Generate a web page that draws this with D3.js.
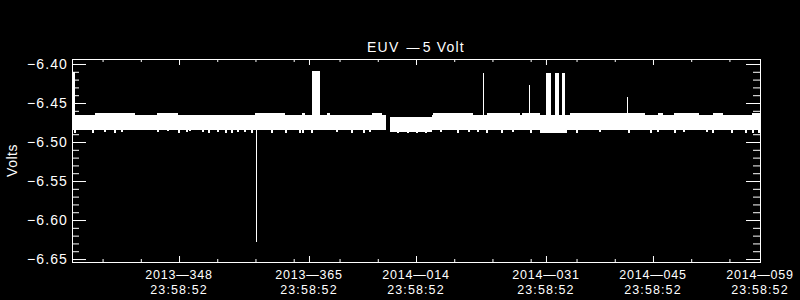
<!DOCTYPE html>
<html>
<head>
<meta charset="utf-8">
<script src="https://cdn.jsdelivr.net/npm/d3@7"></script>
<style>
  html, body { margin: 0; padding: 0; background: #000; }
  svg { display: block; }
</style>
</head>
<body>
<div id="chart"></div>
<script>
// axis ticks (day of year, 2014 days counted on from 365)
const majorDays = [348, 365, 379, 396, 410, 424];
const majorDate = ['2013—348', '2013—365', '2014—014', '2014—031', '2014—045', '2014—059'];
const majorTime = ['23:58:52', '23:58:52', '23:58:52', '23:58:52', '23:58:52', '23:58:52'];
const minorDays = [338, 343, 353, 358, 363, 369, 374, 384, 389, 394, 400, 405, 415, 420];
const yMajor = [-6.40, -6.45, -6.50, -6.55, -6.60, -6.65];

// main band of readings (envelope per stretch)
const segStart = [334.0, 375.6, 381.1, 395.2, 398.7];
const segEnd = [375.1, 381.1, 395.2, 398.7, 424.0];
const segTop = [-6.4654, -6.4683, -6.4654, -6.4654, -6.4654];
const segBot = [-6.4843, -6.4868, -6.4843, -6.4885, -6.4843];

// stretches where the upper edge reaches a step higher
const bumpStart = [337.0, 345.1, 357.9, 364.1, 367.4, 373.2, 381.2, 388.3, 392.9, 399.1, 410.7, 412.7, 417.8, 423.0];
const bumpEnd = [342.2, 347.9, 361.9, 364.5, 367.7, 374.5, 386.5, 392.6, 395.2, 409.0, 411.3, 416.0, 419.1, 424.0];
const bumpTop = [-6.4624, -6.4624, -6.4624, -6.4624, -6.4624, -6.4624, -6.4624, -6.4624, -6.4624, -6.4624, -6.4624, -6.4624, -6.4624, -6.4624];

// short bursts up to -6.41
const burstStart = [334.0, 365.4, 396.0, 397.2, 398.1];
const burstEnd = [334.4, 366.5, 396.6, 397.7, 398.5];
const burstTop = [-6.4099, -6.4090, -6.4115, -6.4115, -6.4115];

// single spikes
const spikeDay = [387.8, 393.8, 406.6, 358.1];
const spikeVal = [-6.4115, -6.4269, -6.4423, -6.6278];

// low readings under the band
const dipDay = [334.3, 336.6, 338.2, 339.5, 340.4, 345.1, 346.4, 347.9, 348.9, 349.3, 351.0, 351.8, 353.0, 354.0,
  354.8, 355.6, 356.5, 357.4, 360.0, 361.9, 363.7, 364.1, 365.3, 368.5, 370.5, 372.1, 372.8, 376.5, 377.8,
  379.0, 380.2, 382.1, 384.4, 385.8, 387.0, 388.2, 390.1, 391.6, 393.9, 399.9, 402.9, 406.7, 409.6, 410.5,
  412.7, 413.9, 416.9, 417.7, 420.2, 422.0, 423.0, 423.7];
const dipVal = [-6.4890, -6.4885, -6.4870, -6.4885, -6.4870, -6.4870, -6.4865, -6.4880, -6.4870, -6.4865, -6.4875, -6.4885, -6.4870, -6.4885,
  -6.4885, -6.4870, -6.4875, -6.4885, -6.4885, -6.4885, -6.4880, -6.4885, -6.4885, -6.4875, -6.4885, -6.4885, -6.4870, -6.4888, -6.4888,
  -6.4885, -6.4888, -6.4875, -6.4885, -6.4875, -6.4870, -6.4885, -6.4885, -6.4870, -6.4885, -6.4885, -6.4875, -6.4885, -6.4885, -6.4870,
  -6.4885, -6.4875, -6.4875, -6.4885, -6.4885, -6.4890, -6.4885, -6.4890];

const width = 800, height = 300;
const plotLeft = 72, plotRight = 760, plotTop = 59, plotBottom = 262;

const svg = d3.select('#chart').append('svg')
  .attr('width', width)
  .attr('height', height)
  .style('background', '#000');

const x = d3.scaleLinear().domain([334, 424]).range([plotLeft, plotRight]);
const y = d3.scaleLinear().domain([-6.6538, -6.3936]).range([plotBottom, plotTop]);

const font = '"Liberation Sans", Arial, sans-serif';

// data marks
const marks = svg.append('g').attr('fill', '#fff').attr('shape-rendering', 'crispEdges');

marks.selectAll('rect.seg')
  .data(segStart)
  .join('rect')
  .attr('class', 'seg')
  .attr('x', (d) => x(d))
  .attr('width', (d, i) => x(segEnd[i]) - x(d))
  .attr('y', (d, i) => y(segTop[i]))
  .attr('height', (d, i) => y(segBot[i]) - y(segTop[i]));

marks.selectAll('rect.bump')
  .data(bumpStart)
  .join('rect')
  .attr('class', 'bump')
  .attr('x', (d) => x(d))
  .attr('width', (d, i) => x(bumpEnd[i]) - x(d))
  .attr('y', (d, i) => y(bumpTop[i]))
  .attr('height', (d, i) => y(-6.4654) - y(bumpTop[i]) + 1);

marks.selectAll('rect.burst')
  .data(burstStart)
  .join('rect')
  .attr('class', 'burst')
  .attr('x', (d) => x(d))
  .attr('width', (d, i) => Math.max(2, x(burstEnd[i]) - x(d)))
  .attr('y', (d, i) => y(burstTop[i]))
  .attr('height', (d, i) => y(-6.470) - y(burstTop[i]));

marks.selectAll('line.spike')
  .data(spikeDay)
  .join('line')
  .attr('class', 'spike')
  .attr('x1', (d) => Math.round(x(d)) + 0.5)
  .attr('x2', (d) => Math.round(x(d)) + 0.5)
  .attr('y1', y(-6.473))
  .attr('y2', (d, i) => y(spikeVal[i]))
  .attr('stroke', '#fff')
  .attr('stroke-width', 1);

marks.selectAll('line.dip')
  .data(dipDay)
  .join('line')
  .attr('class', 'dip')
  .attr('x1', (d) => Math.round(x(d)) + 0.5)
  .attr('x2', (d) => Math.round(x(d)) + 0.5)
  .attr('y1', y(-6.480))
  .attr('y2', (d, i) => y(dipVal[i]))
  .attr('stroke', '#fff')
  .attr('stroke-width', 2);

// axes: ticks point inward on all four sides
const yMinor = y.ticks(26).filter((v) => !yMajor.some((m) => Math.abs(m - v) < 1e-6));

function styleAxis(g) {
  g.select('.domain').remove();
  g.selectAll('line').attr('stroke', '#fff');
}

svg.append('g')
  .attr('transform', `translate(${plotLeft},0)`)
  .call(d3.axisLeft(y).tickValues(yMajor).tickSize(-14).tickSizeOuter(0).tickPadding(4).tickFormat(d3.format('.2f')))
  .call(styleAxis)
  .call((g) => g.selectAll('text')
    .attr('fill', '#fff')
    .style('font-family', font)
    .style('font-size', '14px')
    .style('letter-spacing', '1.1px'));

svg.append('g')
  .attr('transform', `translate(${plotLeft},0)`)
  .call(d3.axisLeft(y).tickValues(yMinor).tickSize(-7).tickSizeOuter(0).tickFormat(''))
  .call(styleAxis);

svg.append('g')
  .attr('transform', `translate(${plotRight},0)`)
  .call(d3.axisRight(y).tickValues(yMajor).tickSize(-14).tickSizeOuter(0).tickFormat(''))
  .call(styleAxis);

svg.append('g')
  .attr('transform', `translate(${plotRight},0)`)
  .call(d3.axisRight(y).tickValues(yMinor).tickSize(-7).tickSizeOuter(0).tickFormat(''))
  .call(styleAxis);

svg.append('g')
  .attr('transform', `translate(0,${plotBottom})`)
  .call(d3.axisBottom(x).tickValues(majorDays).tickSize(-6).tickSizeOuter(0).tickFormat(''))
  .call(styleAxis);

svg.append('g')
  .attr('transform', `translate(0,${plotBottom})`)
  .call(d3.axisBottom(x).tickValues(minorDays).tickSize(-3).tickSizeOuter(0).tickFormat(''))
  .call(styleAxis);

svg.append('g')
  .attr('transform', `translate(0,${plotTop})`)
  .call(d3.axisTop(x).tickValues(majorDays).tickSize(-6).tickSizeOuter(0).tickFormat(''))
  .call(styleAxis);

svg.append('g')
  .attr('transform', `translate(0,${plotTop})`)
  .call(d3.axisTop(x).tickValues(minorDays).tickSize(-3).tickSizeOuter(0).tickFormat(''))
  .call(styleAxis);

// frame
svg.append('rect')
  .attr('x', plotLeft + 0.5)
  .attr('y', plotTop + 0.5)
  .attr('width', plotRight - plotLeft)
  .attr('height', plotBottom - plotTop)
  .attr('fill', 'none')
  .attr('stroke', '#fff')
  .attr('shape-rendering', 'crispEdges');

// two-line date labels
const xLabels = svg.append('g')
  .attr('fill', '#fff')
  .attr('text-anchor', 'middle')
  .style('font-family', font)
  .style('font-size', '12.5px');

xLabels.selectAll('text.date')
  .data(majorDays)
  .join('text')
  .attr('class', 'date')
  .attr('x', (d) => x(d))
  .attr('y', 279)
  .style('letter-spacing', '0.8px')
  .text((d, i) => majorDate[i]);

xLabels.selectAll('text.time')
  .data(majorDays)
  .join('text')
  .attr('class', 'time')
  .attr('x', (d) => x(d))
  .attr('y', 293.5)
  .style('letter-spacing', '1.1px')
  .text((d, i) => majorTime[i]);

// title and y label
const title = svg.append('text')
  .attr('x', (plotLeft + plotRight) / 2)
  .attr('y', 52)
  .attr('text-anchor', 'middle')
  .attr('fill', '#fff')
  .style('font-family', font)
  .style('font-size', '14px')
  .style('letter-spacing', '1.2px');
title.append('tspan').text('EUV ');
title.append('tspan').attr('dx', 2).style('font-size', '13px').text('—');
title.append('tspan').attr('dx', 2).text('5 Volt');

svg.append('text')
  .attr('transform', `translate(17,${(plotTop + plotBottom) / 2}) rotate(-90)`)
  .attr('text-anchor', 'middle')
  .attr('fill', '#fff')
  .style('font-family', font)
  .style('font-size', '14px')
  .style('letter-spacing', '0.5px')
  .text('Volts');
</script>
</body>
</html>
